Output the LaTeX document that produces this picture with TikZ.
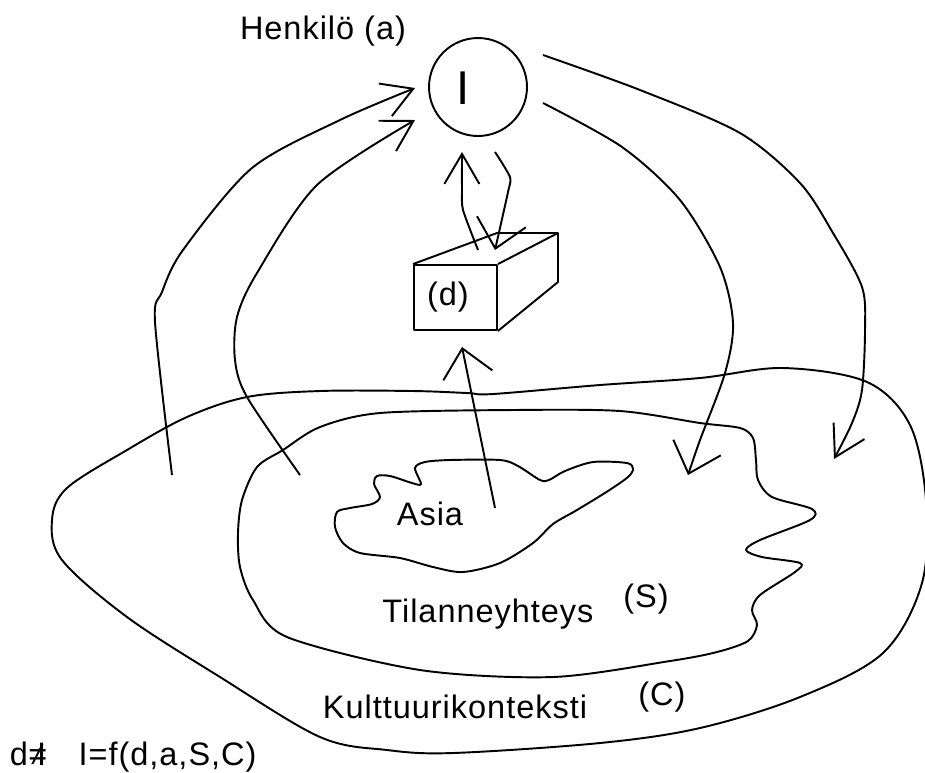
\documentclass[tikz,border=0pt]{standalone}
\usepackage{fontspec}
\setmainfont{Liberation Sans}[LetterSpace=3]
\usetikzlibrary{arrows.meta}
\newcommand\labelfont{\fontsize{18.5}{22}\selectfont}
\newcommand\bigfont{\fontsize{27}{30}\selectfont}
\begin{document}
\begin{tikzpicture}[x=0.02cm,y=-0.02cm,line width=1.1pt,line join=round]
		\tikzstyle{every node}=[font=\labelfont]
		\tikzstyle{arr}=[-{Straight Barb[length=0.6cm,width=0.7cm]}]
		\tikzstyle{wide arr}=[-{Straight Barb[length=0.55cm,width=1.0cm]}]
		\useasboundingbox (0,0) rectangle (925,772);
		% kulttuurikonteksti (C)
		\draw plot[smooth cycle, tension=0.55] coordinates {(127,450) (187,417) (247,397) (320,391) (413,391) (467,393) (493,394) (600,385) (700,378) (783,368) (867,382) (910,425) (926,500) (922,583) (883,653) (800,697) (700,728) (600,743) (453,753) (387,750) (320,737) (220,677) (127,617) (62,560) (52,520) (67,488)};
		% tilanneyhteys (S)
		\draw plot[smooth cycle, tension=0.5] coordinates {(320,427) (380,413) (513,410) (620,411) (700,423) (740,428) (753,438) (756,460) (758,480) (772,497) (812,509) (810,520) (760,540) (746,550) (762,557) (800,563) (795,572) (760,595) (752,610) (757,625) (748,641) (717,652) (670,661) (553,677) (420,670) (287,637) (253,600) (240,567) (238,533) (242,500) (257,467) (283,450)};
		% Asia
		\draw plot[smooth cycle, tension=0.5] coordinates {(337,512) (350,508) (372,504) (380,497) (374,484) (377,476) (390,476) (412,483) (421,484) (415,468) (425,462) (450,460) (500,460) (518,466) (540,480) (549,480) (565,471) (593,462) (627,463) (633,469) (628,477) (608,491) (577,510) (553,524) (533,543) (500,563) (463,572) (433,567) (400,558) (360,553) (343,543) (335,527)};
		% henkilo ja dokumentti
		\node [draw, circle, minimum size=1.96cm, inner sep=0pt] (henk) at (478,87) {};
		\node [font=\bigfont, anchor=base] (ii) at (463,104) {I};
		\node [draw, minimum width=1.66cm, minimum height=1.3cm, inner sep=0pt] (box) at (455.5,297.5) {};
		\node [anchor=base] (dlab) at (448,305) {(d)};
		\draw (box.north west) -- (497,233) -- (558,233) -- (558,282) -- (box.south east);
		\draw (box.north east) -- (558,233);
		% tekstit
		\node [anchor=base] (hlab) at (323,39) {Henkilö (a)};
		\node [anchor=base] (asia) at (430,525) {Asia};
		\node [anchor=base] (tila) at (488,622) {Tilanneyhteys};
		\node [anchor=base] (slab) at (646,607) {(S)};
		\node [anchor=base] (kult) at (455,718) {Kulttuurikonteksti};
		\node [anchor=base] (clab) at (662,705) {(C)};
		\node [anchor=base west, inner sep=0pt] (kaava) at (9,765) {d≠\kern-.3em I\quad I=f(d,a,S,C)};
		% nuolten paat
		\coordinate (srcA) at (172,475);
		\coordinate (tipA) at (415,88);
		\coordinate (srcB) at (300,475);
		\coordinate (tipB) at (415,120);
		\coordinate (srcC) at (543,103);
		\coordinate (tipC) at (688,475);
		\coordinate (srcD) at (543,55);
		\coordinate (tipD) at (834,459);
		\coordinate (srcE) at (495,508);
		\coordinate (tipE) at (462,347);
		\coordinate (srcF) at (478,250);
		\coordinate (tipF) at (462,152);
		\coordinate (srcG) at (495,152);
		\coordinate (tipG) at (495,250);
		% nuolet
		\draw [arr] plot[smooth, tension=0.5] coordinates {(srcA) (155,322) (162,292) (183,250) (252,168) (340,120) (tipA)};
		\draw [arr] plot[smooth, tension=0.5] coordinates {(srcB) (247,397) (235,360) (237,317) (257,273) (317,185) (tipB)};
		\draw [wide arr] plot[smooth, tension=0.5] coordinates {(srcC) (622,147) (680,200) (720,267) (733,323) (725,373) (700,440) (tipC)};
		\draw [arr] plot[smooth, tension=0.5] coordinates {(srcD) (640,90) (740,133) (800,183) (833,233) (862,287) (865,330) (862,390) (852,423) (tipD)};
		\draw [wide arr] (srcE) -- (tipE);
		\draw [arr] plot[smooth, tension=0.4] coordinates {(srcF) (463,210) (462,190) (tipF)};
		\draw [wide arr] plot[smooth, tension=0.4] coordinates {(srcG) (510,177) (508,192) (tipG)};
\end{tikzpicture}
\end{document}
